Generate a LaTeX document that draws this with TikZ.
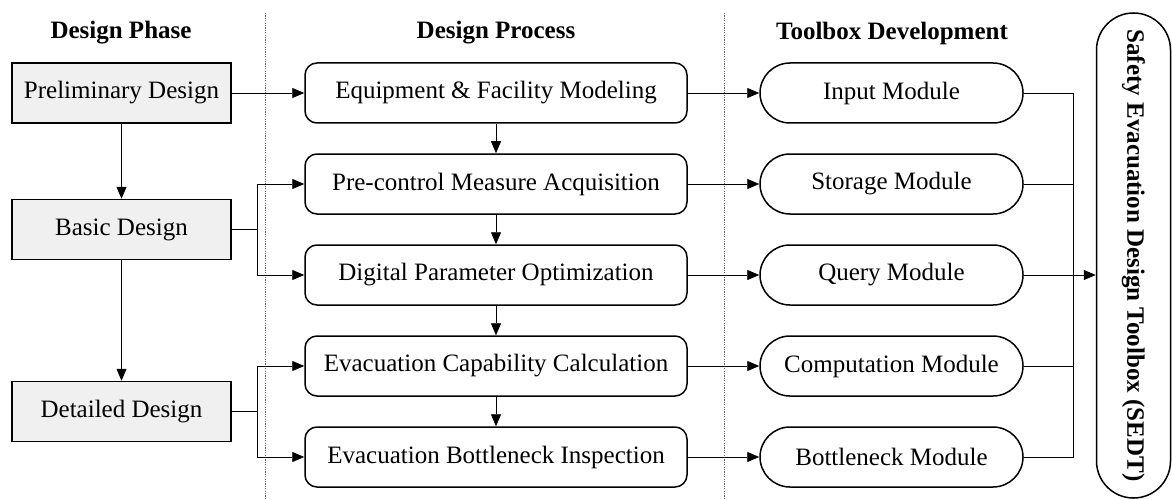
\documentclass[tikz,border=0pt]{standalone}
\usepackage{fontspec}
\setmainfont{Liberation Serif}
\usetikzlibrary{arrows.meta,shapes.misc}
\begin{document}
\begin{tikzpicture}[x=1pt,y=-1pt,
  every node/.style={font=\fontsize{25}{30}\selectfont, inner sep=0pt},
  header/.style={font=\fontsize{25}{30}\selectfont\bfseries},
  phasebox/.style={draw, line width=1.5pt, fill=black!6, minimum width=219pt, minimum height=60pt},
  procbox/.style={draw, line width=1.5pt, rounded corners=12pt, minimum width=382pt, minimum height=60pt},
  modbox/.style={draw, line width=1.5pt, rounded rectangle, minimum width=263pt, minimum height=60pt},
  conn/.style={line width=0.8pt, -{Triangle[length=12pt,width=10pt]}},
  wire/.style={line width=0.8pt},
  divider/.style={line width=0.8pt, black!60, dash pattern=on 1.2pt off 1.2pt}
]
\useasboundingbox (0,0) rectangle (1172,500);

% column separators
\draw[divider] (265,13) -- (265,500);
\draw[divider] (724,13) -- (724,500);

% column headers
\node[header] (h1) at (121,33) {Design Phase};
\node[header] (h2) at (496,33) {Design Process};
\node[header] (h3) at (892,33) {Toolbox Development};

% design phases
\node[phasebox] (prelim) at (121.5,93) {Preliminary Design};
\node[phasebox] (basic) at (121.5,229.5) {Basic Design};
\node[phasebox] (detail) at (121.5,411.5) {Detailed Design};

% design process steps
\node[procbox] (equip) at (496,93) {Equipment \& Facility Modeling};
\node[procbox] (precon) at (496,184) {Pre-control Measure Acquisition};
\node[procbox] (digit) at (496,275) {Digital Parameter Optimization};
\node[procbox] (capab) at (496,366) {Evacuation Capability Calculation};
\node[procbox] (bottle) at (496,457) {Evacuation Bottleneck Inspection};

% toolbox modules
\node[modbox] (input) at (891.5,93) {Input Module};
\node[modbox] (storage) at (891.5,184) {Storage Module};
\node[modbox] (query) at (891.5,275) {Query Module};
\node[modbox] (comput) at (891.5,366) {Computation Module};
\node[modbox] (bneck) at (891.5,457) {Bottleneck Module};

% toolbox
\node[draw, line width=1.5pt, rounded corners=37pt, minimum width=74pt, minimum height=485pt,
      font=\fontsize{25}{30}\selectfont\bfseries] (sedt) at (1133.5,255.5)
      {\rotatebox{-90}{Safety Evacuation Design Toolbox (SEDT)}};

% phase sequence
\draw[conn] (prelim) -- (basic);
\draw[conn] (basic) -- (detail);

% phases to process steps
\draw[conn] (prelim) -- (equip);
\coordinate (jb) at (257,229.5);
\coordinate (jd) at (257,411.5);
\draw[wire] (basic.east) -- (jb);
\draw[conn] (jb) |- (precon.west);
\draw[conn] (jb) |- (digit.west);
\draw[wire] (detail.east) -- (jd);
\draw[conn] (jd) |- (capab.west);
\draw[conn] (jd) |- (bottle.west);

% process sequence
\draw[conn] (equip) -- (precon);
\draw[conn] (precon) -- (digit);
\draw[conn] (digit) -- (capab);
\draw[conn] (capab) -- (bottle);

% process steps to modules
\draw[conn] (equip) -- (input);
\draw[conn] (precon) -- (storage);
\draw[conn] (digit) -- (query);
\draw[conn] (capab) -- (comput);
\draw[conn] (bottle) -- (bneck);

% modules gathered into the toolbox
\coordinate (bus) at (1073,0);
\draw[wire] (input.east) -- (input.east -| bus) -- (bneck.east -| bus) -- (bneck.east);
\draw[wire] (storage.east) -- (storage.east -| bus);
\draw[wire] (comput.east) -- (comput.east -| bus);
\draw[conn] (query.east) -- (query.east -| sedt.west);
\end{tikzpicture}
\end{document}
